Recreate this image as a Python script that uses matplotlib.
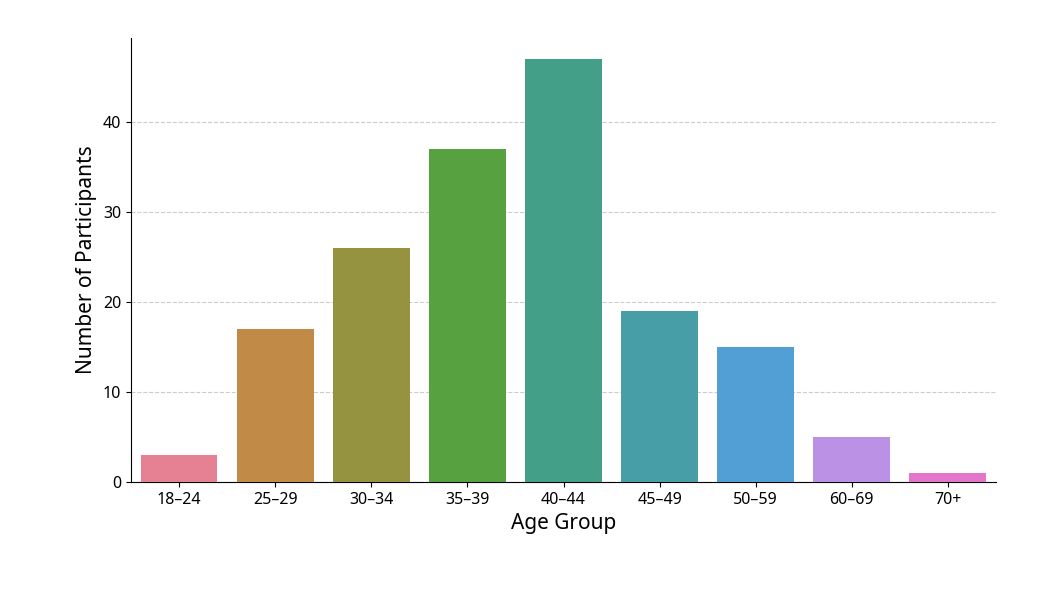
import matplotlib
matplotlib.use("Agg")
import matplotlib.pyplot as plt
import seaborn as sns

categories = ["18–24", "25–29", "30–34", "35–39", "40–44", "45–49", "50–59", "60–69", "70+"]
counts = [3, 17, 26, 37, 47, 19, 15, 5, 1]

plt.rcParams['font.family'] = ['Noto Sans', 'DejaVu Sans']
fig = plt.figure(figsize=(10.43, 5.91), dpi=100)
ax = fig.add_axes([131/1043, 1-482/591, (996-131)/1043, (482-38)/591])
sns.barplot(x=categories, y=counts, hue=categories, palette="husl", legend=False, ax=ax, zorder=3)
ax.set_xlabel("Age Group", fontsize=15)
ax.set_ylabel("Number of Participants", fontsize=15)
ax.tick_params(labelsize=11.5)
ax.grid(axis='y', linestyle='--', color='#cccccc', linewidth=0.8, zorder=0)
ax.set_axisbelow(True)
for s in ['top', 'right']:
    ax.spines[s].set_visible(False)
fig.savefig("out.png", dpi=100)
